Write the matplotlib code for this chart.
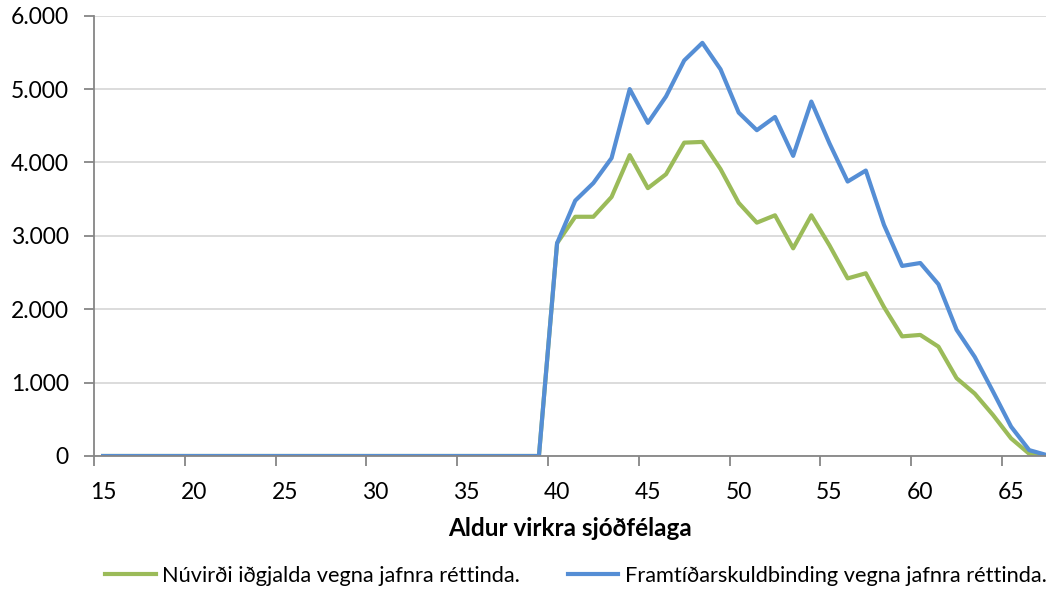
import matplotlib
matplotlib.use("Agg")
import matplotlib.pyplot as plt
from matplotlib.ticker import FixedLocator, FuncFormatter, NullFormatter

plt.rcParams['font.family'] = ['Lato', 'DejaVu Sans']

ages = list(range(15, 68))
zeros_before = [0] * 25  # ages 15..39
nuvirdi = zeros_before + [2900, 3260, 3260, 3530, 4100, 3650, 3840, 4270, 4280, 3910,
                          3450, 3180, 3280, 2830, 3280, 2870, 2420, 2490, 2030, 1630,
                          1650, 1490, 1060, 850, 560, 240, 30, 0]
framtid = zeros_before + [2900, 3480, 3720, 4060, 5000, 4540, 4900, 5390, 5630, 5270,
                          4680, 4440, 4620, 4090, 4830, 4260, 3740, 3890, 3150, 2590,
                          2630, 2340, 1720, 1350, 880, 400, 80, 10]
labels = ["Núvirði iðgjalda vegna jafnra réttinda.",
          "Framtíðarskuldbinding vegna jafnra réttinda."]
xlabel = "Aldur virkra sjóðfélaga"
yticks = [0, 1000, 2000, 3000, 4000, 5000, 6000]
xlabel_ticks = [15, 20, 25, 30, 35, 40, 45, 50, 55, 60, 65]

W, H = 1046, 590
fig = plt.figure(figsize=(W / 100, H / 100), dpi=100)
ax = fig.add_axes([94 / W, (H - 456) / H, (W - 94) / W, (456 - 15.7) / H])

green = '#9bbb59'
blue = '#558ed5'
ax.plot(ages, nuvirdi, color=green, lw=3.0, label=labels[0])
ax.plot(ages, framtid, color=blue, lw=3.0, label=labels[1])

xmax = 14.5 + (W - 94) / 18.16
ax.set_xlim(14.5, xmax)
ax.set_ylim(0, 6000)

ax.yaxis.set_major_locator(FixedLocator(yticks))
ax.yaxis.set_major_formatter(FuncFormatter(lambda v, p: f"{int(v):,}".replace(",", ".")))
ax.grid(axis='y', color='#d9d9d9', lw=1.3)
ax.set_axisbelow(True)

# labels at category centres, tick marks at category boundaries
ax.xaxis.set_major_locator(FixedLocator(xlabel_ticks))
ax.xaxis.set_major_formatter(FuncFormatter(lambda v, p: f"{int(round(v))}"))
ax.xaxis.set_minor_locator(FixedLocator([t - 0.5 for t in xlabel_ticks]))
ax.xaxis.set_minor_formatter(NullFormatter())
ax.tick_params(axis='x', which='minor', length=7, width=1.3, color='#868686', direction='out')
ax.tick_params(axis='x', which='major', length=0, pad=19, labelsize=16.5)
ax.tick_params(axis='y', length=7, width=1.3, color='#868686', direction='out', pad=11, labelsize=16.5)

for s in ['top', 'right']:
    ax.spines[s].set_visible(False)
for s in ['left', 'bottom']:
    ax.spines[s].set_color('#868686')
    ax.spines[s].set_linewidth(1.3)

ax.set_xlabel(xlabel, fontsize=17.5, fontweight='bold', labelpad=10)

fig.legend(loc='center', bbox_to_anchor=(576 / W, 1 - 576 / H), ncol=2, frameon=False,
           fontsize=15.7, handlelength=2.3, columnspacing=2.2, handletextpad=0.3)

fig.savefig('out.png', dpi=100)
